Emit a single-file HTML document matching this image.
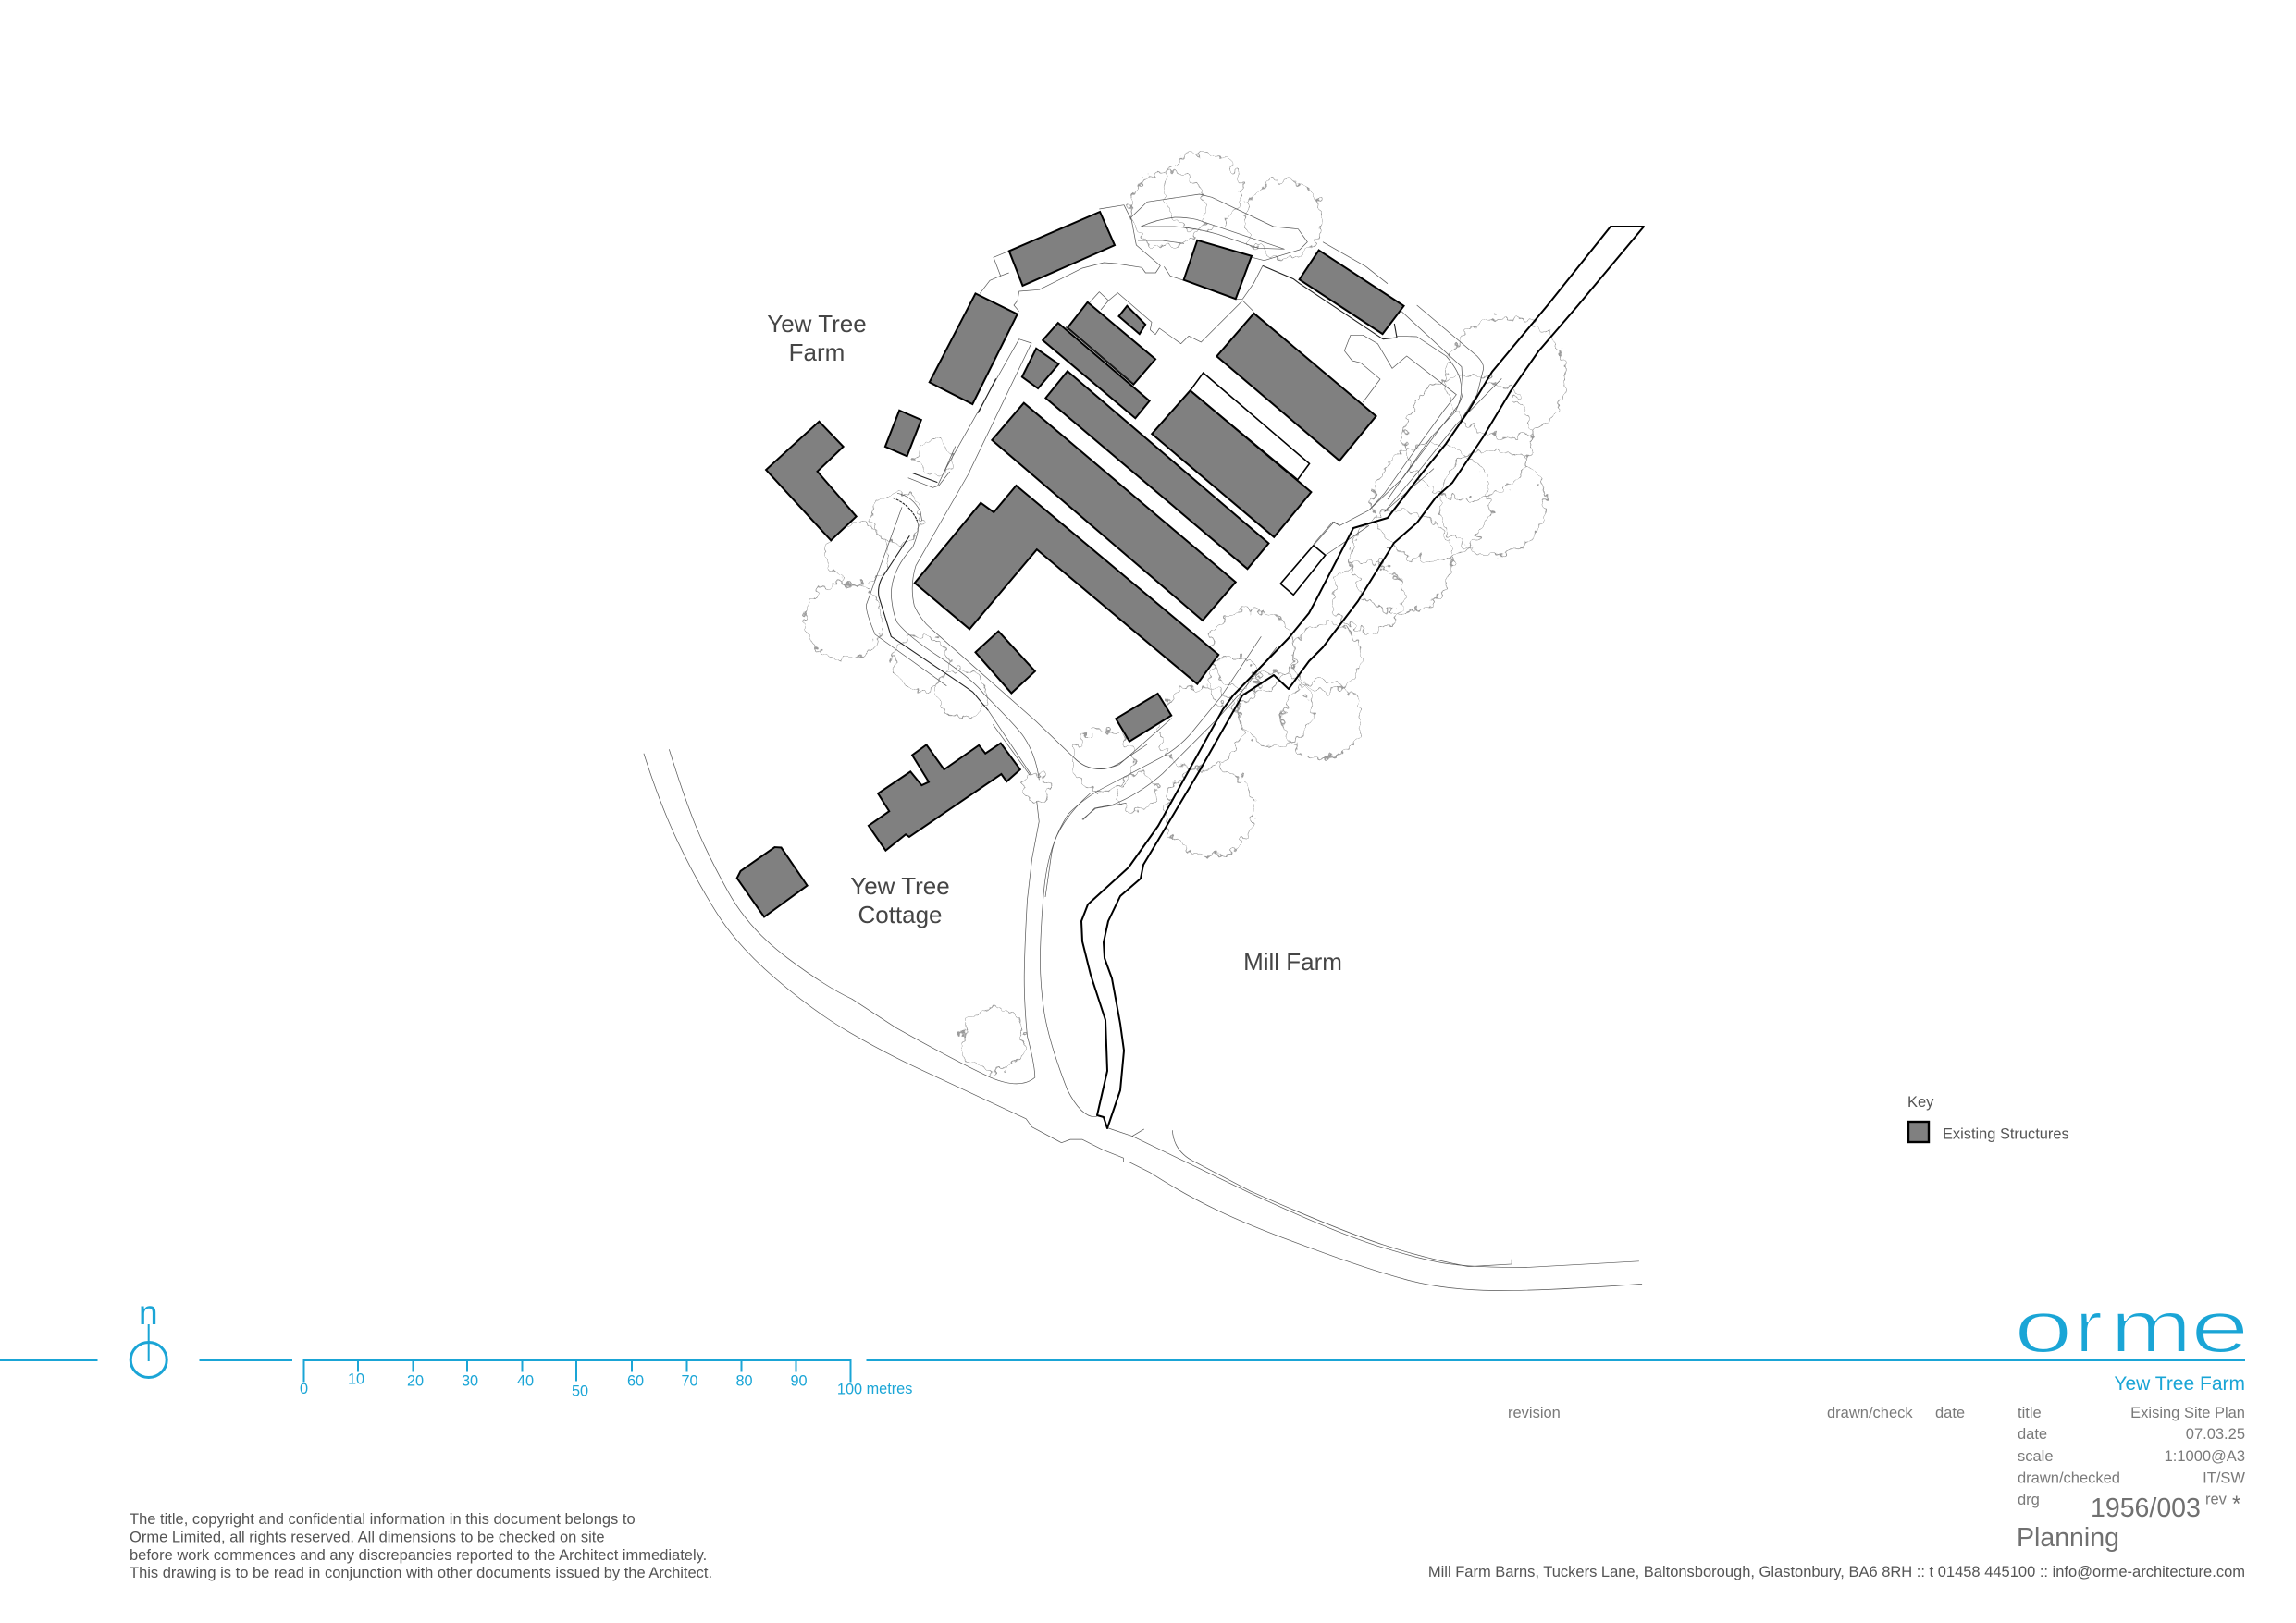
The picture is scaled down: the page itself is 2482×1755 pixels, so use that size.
<!DOCTYPE html>
<html><head><meta charset="utf-8"><title>Yew Tree Farm - Existing Site Plan</title>
<style>
html,body{margin:0;padding:0;background:#fff;width:2482px;height:1755px;overflow:hidden}
svg{display:block;position:absolute;left:0;top:0}
text{font-family:"Liberation Sans",sans-serif}
polyline,polygon,path,ellipse,circle{vector-effect:non-scaling-stroke}
.t{fill:none;stroke:#555;stroke-width:.7;stroke-linejoin:round}
.d{fill:none;stroke:#222;stroke-width:1.1;stroke-linejoin:round}
.b{fill:#808080;stroke:#000;stroke-width:2;stroke-linejoin:miter}
.w{fill:#fff;stroke:#000;stroke-width:1.6}
.m{fill:#7a7a7a;font-size:16.5px}
.c{fill:#1aa5d6}
.s{font-size:16.3px;fill:#1aa5d6;text-anchor:middle}
.l{font-size:26px;fill:#454545;text-anchor:middle}
.f{font-size:16.5px;fill:#555}
.o{font-size:80px;fill:#1aa5d6;stroke:#fff;stroke-width:2}
</style></head><body>
<svg width="2482" height="1755" viewBox="0 0 2482 1755" xmlns="http://www.w3.org/2000/svg">
<defs>
<filter id="wob" filterUnits="userSpaceOnUse" x="0" y="0" width="2482" height="1755">
<feTurbulence type="fractalNoise" baseFrequency="0.1" numOctaves="2" seed="4" result="n"/>
<feDisplacementMap in="SourceGraphic" in2="n" scale="18" xChannelSelector="R" yChannelSelector="G"/>
</filter>
</defs>
<rect width="2482" height="1755" fill="#fff"/>

<!-- trees -->
<g filter="url(#wob)" fill="none" stroke="#999" stroke-width="1">
<circle cx="1262" cy="226" r="41"/><circle cx="1300" cy="207" r="42"/><circle cx="1387" cy="237" r="42"/>
<circle cx="1628" cy="408" r="65"/><circle cx="1587" cy="473" r="68"/><circle cx="1613" cy="543" r="57"/>
<circle cx="1547" cy="543" r="63"/><circle cx="1515" cy="607" r="55"/><circle cx="1479" cy="645" r="38"/>
<circle cx="1435" cy="710" r="37"/><circle cx="1430" cy="778" r="42"/><circle cx="1378" cy="767" r="40"/>
<circle cx="1353" cy="703" r="45"/><circle cx="1333" cy="737" r="27"/><circle cx="1297" cy="787" r="45"/>
<circle cx="1193" cy="822" r="33"/><circle cx="1229" cy="857" r="21"/><circle cx="1308" cy="877" r="48"/>
<circle cx="1074" cy="1124" r="34"/><circle cx="1121" cy="852" r="15"/><circle cx="1010" cy="496" r="19"/>
<circle cx="912" cy="671" r="42"/><circle cx="927" cy="599" r="33"/><circle cx="970" cy="560" r="27"/>
<circle cx="995" cy="717" r="30"/><circle cx="1040" cy="750" r="27"/>
</g>

<!-- thin lines top (zoom 7 coordinates) -->
<g transform="translate(1050,200) scale(.33333)">
<polyline class="t" points="120,215 72,235 95,295 122,285"/>
<polyline class="t" points="95,295 60,310 28,352"/>
<polyline class="t" points="415,78 495,65 520,115 535,195 613,262 598,285 565,285 553,268 470,255 430,252 360,270 220,340 155,345 150,375 138,390 155,410"/>
<polyline class="t" points="625,265 645,295 690,310"/>
<polyline class="t" points="515,108 570,55 740,30 780,40 980,135 1060,143 1090,185 1065,210 950,245 910,235"/>
<path class="t" d="M550,135 Q600,112 660,105 Q700,105 730,112 L1015,208 L930,205 L800,160 Q730,140 660,135 L550,135"/>
<polyline class="t" points="540,180 620,180 690,190"/>
<polyline class="t" points="1140,185 1280,265 1350,320"/>
<polyline class="d" points="945,262 1045,305 1065,320 1335,500"/>
<polyline class="t" points="945,262 915,320 880,370 858,370"/>
<polyline class="t" points="915,410 880,375 745,510 705,490 680,515 610,465 597,485 580,470 585,445 475,350 445,375 420,405"/>
<polyline class="t" points="445,375 415,347 385,380"/>
<polyline class="t" points="-6,930 195,513 155,500 -90,933"/>
<polyline class="d" points="22,740 80,628"/>
</g>

<!-- thin lines right (zoom 8 coordinates) -->
<g transform="translate(1400,330) scale(.33333)">
<polyline class="d" points="285,110 330,105 322,60"/>
<path class="t" d="M395,0 L590,165 Q615,190 610,210 L590,290 L540,370"/>
<path class="t" d="M330,100 L395,102 L490,165 Q525,205 535,240 Q548,290 520,345 L440,430 L300,630"/>
<path class="t" d="M345,20 L540,200 L545,280 Q540,310 525,330 L470,400 L350,560 L240,665"/>
<polyline class="t" points="160,148 180,97 220,97 268,125 315,205 362,165 523,290 480,345 375,490 290,610 240,665 145,715 122,703 60,775"/>
<polyline class="t" points="220,315 276,240 213,187 185,180 160,148"/>
<polyline class="t" points="670,238 580,330 520,390 400,540 290,670"/>
<polyline class="t" points="290,670 450,530"/>
<polyline class="t" points="240,715 100,810"/>
</g>

<!-- thin lines left (zoom 9 coordinates) -->
<g transform="translate(920,510) scale(.33333)">
<path class="t" d="M385,0 L210,305 Q190,370 205,435 Q225,480 260,510 L600,810 L725,930 Q760,965 810,965 Q850,965 900,925 L960,885"/>
<path class="d" d="M190,208 L100,345 Q85,375 90,405 L130,535 L300,650 Q360,690 395,715 L445,775"/>
<polyline class="t" points="445,775 585,985"/>
<polyline class="t" points="460,820 580,985"/>
<path class="t" d="M165,115 L50,430 Q45,450 78,528 L310,695"/>
<path class="t" d="M210,155 Q230,175 200,245 Q130,320 130,400 Q135,460 150,490 Q190,540 300,610 Q400,680 430,720 Q540,830 560,860 Q600,920 610,1000"/>
<path class="d" stroke-dasharray="3 1" d="M135,85 Q190,105 215,160"/>
<path class="t" d="M150,70 Q200,80 225,130 L230,160"/>
<path class="t" d="M185,20 L265,52 L285,45 L320,0"/>
<polyline class="d" points="200,5 280,35"/>
</g>
<g transform="translate(800,150) scale(.6378,.4464)">
<path class="t" d="M345,810 L335,840 M345,810 L365,745"/>
</g>

<!-- thin lines centre (zoom 10 coordinates) -->
<g transform="translate(1130,650) scale(.33333)">
<path class="t" d="M410,380 L240,530 Q180,555 130,535 Q110,525 95,510"/>
<path class="t" d="M700,115 L570,310 L480,420 Q440,470 380,505 L200,600 Q130,635 75,690 Q30,760 20,820 L0,960"/>
<path class="t" d="M122,710 L160,672 Q190,665 215,662 Q300,630 380,560 L560,380 L640,290 L750,150"/>
</g>

<!-- lower roads (zoom 2 coordinates) -->
<g transform="translate(650,750) scale(.6378,.4464)">
<path class="t" d="M72,145 Q100,270 130,360 Q160,450 195,530 Q230,610 295,690 Q360,770 420,820 Q480,870 540,910 Q600,950 720,1030 L730,1050 L780,1088 L795,1080 L815,1080 L850,1105 L885,1125 L885,1135"/>
<path class="t" d="M895,1135 L930,1160 Q990,1215 1045,1252 Q1100,1290 1200,1342 Q1300,1395 1365,1420 Q1430,1445 1515,1446 Q1600,1447 1764,1430"/>
<path class="t" d="M115,135 Q140,250 160,320 Q180,390 215,480 Q250,570 315,640 Q380,710 425,740 L500,810 Q600,890 660,930 Q710,960 735,930 Q735,900 722,830 Q716,740 717,670 Q718,600 722,500 L730,400 L742,310 L738,260"/>
<path class="t" d="M840,1025 Q815,1030 790,960 Q760,850 751,775 Q743,700 744,630 Q745,560 750,480 Q755,400 772,345 Q790,290 830,240"/>
<polyline class="t" points="858,1052 900,1072 920,1055"/>
<path class="t" d="M900,1072 L1100,1210 Q1250,1310 1325,1342 Q1400,1375 1440,1382 Q1480,1390 1568,1390 L1759,1375"/>
<path class="t" d="M968,1058 Q970,1105 1000,1130 L1100,1205 Q1250,1300 1325,1335 Q1400,1370 1470,1388 L1543,1382 L1543,1370"/>
<path class="t" d="M815,305 L838,278 L890,265"/>
</g>

<!-- access track -->
<polygon fill="none" stroke="#000" stroke-width="2" stroke-linejoin="round" points="1741,245 1777,245 1706,330 1663,380 1633,423 1603,473 1570,522 1552,538 1532,565 1507,587 1468,650 1430,700 1415,715 1393,745 1377,730 1343,752 1297,833 1257,900 1236,935 1233,950 1211,969 1198,996 1193,1019 1194,1036 1202,1058 1211,1107 1215,1136 1211,1179 1197,1220 1193,1208 1186,1206 1197,1158 1195,1103 1179,1054 1170,1018 1169,996 1176,978 1220,938 1252,893 1283,837 1322,767 1333,752 1393,690 1415,663 1422,650 1463,571 1500,560 1537,512 1563,480 1587,445 1613,402 1673,330"/>

<!-- buildings upper (zoom 1 coordinates) -->
<g transform="translate(800,150) scale(.6378,.4464)">
<polygon class="b" points="456,272 610,177 635,258 479,356"/>
<polygon class="b" points="775,246 867,284 840,388 752,342"/>
<polygon class="b" points="981,270 1125,405 1089,473 948,341"/>
<polygon class="b" points="399,375 470,425 394,643 321,590"/>
<polygon class="b" points="134,685 175,746 131,806 197,915 154,973 44,802"/>
<polygon class="b" points="270,658 307,681 283,769 246,746"/>
<polygon class="w" points="785,567 965,787 945,826 763,610"/>
<polygon class="w" points="972,985 992,1009 938,1105 916,1078"/>
<polyline class="t" points="972,985 1007,928 1017,937"/>
<polygon class="b" points="589,396 704,534 667,595 555,458"/>
<polygon class="b" points="539,446 694,635 670,677 513,488"/>
<polyline class="d" points="552,456 666,592"/>
<polygon class="b" points="656,405 687,450 677,473 642,430"/>
<polygon class="b" points="502,508 540,546 505,605 478,577"/>
<polygon class="b" points="555,563 896,980 860,1042 518,628"/>
<polygon class="b" points="481,640 840,1074 784,1167 427,730"/>
<polygon class="b" points="763,610 968,856 905,965 698,715"/>
<polygon class="b" points="871,423 1078,672 1016,780 808,527"/>
<polygon class="b" points="468,840 811,1250 775,1321 503,995 389,1188 296,1076 408,882 430,905"/>
<polygon class="b" points="438,1193 500,1290 460,1343 399,1244"/>
<polygon class="b" points="708,1344 731,1397 660,1460 637,1405"/>
</g>
<g transform="translate(650,750) scale(.6378,.4464)">
<polygon class="b" points="551,124 581,184 640,125 651,145 677,120 710,184 687,213 678,195 522,347 516,341 482,380 453,320 488,285 469,242 524,189 543,222 555,214 527,149"/>
<polygon class="b" points="294,372 305,373 349,465 276,541 230,447 236,430"/>
</g>

<!-- site labels -->
<text class="l" x="883" y="359">Yew Tree</text>
<text class="l" x="883" y="390">Farm</text>
<text class="l" x="973" y="967">Yew Tree</text>
<text class="l" x="973" y="998">Cottage</text>
<text class="l" x="1397.5" y="1049">Mill Farm</text>

<!-- key -->
<text x="2062" y="1197" font-size="16.5" fill="#555">Key</text>
<rect x="2063" y="1213" width="22" height="22" fill="#808080" stroke="#000" stroke-width="2.4"/>
<text x="2100" y="1231.5" font-size="16.4" fill="#555">Existing Structures</text>

<!-- title line -->
<g fill="#1aa5d6">
<rect x="0" y="1469" width="105.5" height="3"/>
<rect x="215.5" y="1469" width="100.5" height="3"/>
<rect x="328" y="1469" width="592.5" height="3"/>
<rect x="936.5" y="1469" width="1490.5" height="3"/>
</g>
<!-- north -->
<ellipse cx="160.7" cy="1470.5" rx="19.5" ry="19" fill="none" stroke="#1aa5d6" stroke-width="3"/>
<rect x="159.7" y="1432" width="2" height="40" fill="#1aa5d6"/>
<text class="c" x="150" y="1432" font-size="37">n</text>

<!-- scale bar ticks -->
<g stroke="#1aa5d6" stroke-width="2" fill="none">
<line x1="328.5" y1="1470" x2="328.5" y2="1494.5"/>
<line x1="387" y1="1470" x2="387" y2="1483.5"/>
<line x1="446.5" y1="1470" x2="446.5" y2="1483.5"/>
<line x1="505" y1="1470" x2="505" y2="1483.5"/>
<line x1="564.5" y1="1470" x2="564.5" y2="1483.5"/>
<line x1="623" y1="1470" x2="623" y2="1493.5"/>
<line x1="683" y1="1470" x2="683" y2="1483.5"/>
<line x1="742.5" y1="1470" x2="742.5" y2="1483.5"/>
<line x1="801.5" y1="1470" x2="801.5" y2="1483.5"/>
<line x1="860.5" y1="1470" x2="860.5" y2="1483.5"/>
<line x1="919.5" y1="1470" x2="919.5" y2="1494.5"/>
</g>
<text class="s" x="328.5" y="1507">0</text>
<text class="s" x="385" y="1496.5">10</text>
<text class="s" x="449" y="1498.5">20</text>
<text class="s" x="508" y="1498.5">30</text>
<text class="s" x="568" y="1498.5">40</text>
<text class="s" x="627" y="1509.5">50</text>
<text class="s" x="687" y="1498.5">60</text>
<text class="s" x="745.5" y="1498.5">70</text>
<text class="s" x="804.5" y="1498.5">80</text>
<text class="s" x="863.5" y="1498.5">90</text>
<text class="s" x="918.5" y="1507.5">100</text>
<text class="s" x="961.5" y="1507">metres</text>

<!-- disclaimer -->
<text class="f" x="140" y="1648">The title, copyright and confidential information in this document belongs to</text>
<text class="f" x="140" y="1667.5">Orme Limited, all rights reserved. All dimensions to be checked on site</text>
<text class="f" x="140" y="1687">before work commences and any discrepancies reported to the Architect immediately.</text>
<text class="f" x="140" y="1706">This drawing is to be read in conjunction with other documents issued by the Architect.</text>

<!-- logo -->
<text class="o" x="2177" y="1462" textLength="63.6" lengthAdjust="spacingAndGlyphs">o</text>
<text class="o" x="2243" y="1462" textLength="30" lengthAdjust="spacingAndGlyphs">r</text>
<text class="o" x="2281" y="1462" textLength="88.7" lengthAdjust="spacingAndGlyphs">m</text>
<text class="o" x="2368" y="1462" textLength="63.6" lengthAdjust="spacingAndGlyphs">e</text>

<!-- title block -->
<text x="2427" y="1503" font-size="21" fill="#1aa5d6" text-anchor="end">Yew Tree Farm</text>
<text class="m" x="1630" y="1533">revision</text>
<text class="m" x="1975" y="1533">drawn/check</text>
<text class="m" x="2092" y="1533">date</text>
<text class="m" x="2181" y="1533">title</text>
<text class="m" x="2427" y="1533" text-anchor="end">Exising Site Plan</text>
<text class="m" x="2181" y="1556">date</text>
<text class="m" x="2427" y="1556" text-anchor="end">07.03.25</text>
<text class="m" x="2181" y="1580">scale</text>
<text class="m" x="2427" y="1580" text-anchor="end">1:1000@A3</text>
<text class="m" x="2181" y="1603.5">drawn/checked</text>
<text class="m" x="2427" y="1603.5" text-anchor="end">IT/SW</text>
<text class="m" x="2181" y="1627">drg</text>
<text x="2260" y="1640" font-size="28.5" fill="#707070">1956/003</text>
<text class="m" x="2384" y="1626.5">rev</text>
<text x="2413" y="1634" font-size="24" fill="#707070">*</text>
<text x="2180" y="1672" font-size="28.5" fill="#707070">Planning</text>
<text x="2427" y="1705" font-size="16.5" fill="#555" text-anchor="end">Mill Farm Barns, Tuckers Lane, Baltonsborough, Glastonbury, BA6 8RH :: t 01458 445100 :: info@orme-architecture.com</text>
</svg>
</body></html>
